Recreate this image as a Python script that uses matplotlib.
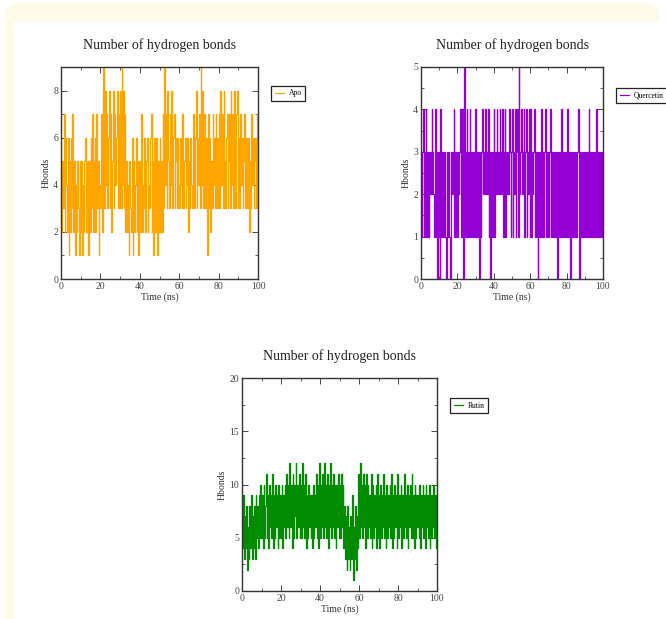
import numpy as np
import matplotlib
matplotlib.use("Agg")
import matplotlib.pyplot as plt
from matplotlib.patches import FancyBboxPatch, Rectangle
from matplotlib.ticker import MultipleLocator

plt.rcParams["font.family"] = ["Liberation Serif", "DejaVu Serif"]

# ── data: hydrogen bond counts (about 2.5 frames per ns) ──
apo_hbonds = [
    6, 2, 5, 3, 7, 2, 6, 4, 2, 6, 1, 5, 2, 6, 3, 7, 2, 5, 1, 4, 2, 5, 3, 1, 5,
    2, 5, 1, 4, 2, 5, 6, 2, 5, 3, 1, 5, 2, 6, 3, 7, 2, 5, 6, 2, 7, 3, 5, 1, 4,
    3, 7, 2, 6, 9, 3, 8, 4, 7, 3, 6, 8, 3, 7, 2, 5, 8, 3, 7, 4, 6, 8, 3, 7, 3,
    8, 3, 9, 4, 8, 3, 7, 2, 5, 2, 4, 1, 5, 3, 2, 6, 1, 5, 2, 4, 6, 2, 5, 1, 5,
    2, 5, 7, 2, 4, 3, 6, 2, 5, 6, 2, 4, 3, 6, 7, 2, 5, 1, 6, 2, 4, 6, 1, 5, 2,
    6, 2, 5, 2, 7, 3, 9, 4, 7, 3, 8, 5, 3, 7, 4, 8, 3, 6, 7, 3, 5, 6, 3, 6, 4,
    3, 6, 4, 3, 7, 3, 5, 6, 3, 4, 6, 2, 5, 3, 6, 4, 3, 7, 5, 3, 6, 8, 3, 6, 4,
    7, 3, 9, 4, 8, 3, 7, 5, 3, 6, 1, 7, 3, 6, 2, 5, 3, 7, 4, 6, 3, 7, 3, 6, 3,
    7, 3, 8, 4, 7, 3, 8, 5, 3, 6, 7, 3, 5, 7, 3, 8, 4, 7, 3, 8, 6, 3, 7, 8, 3,
    6, 3, 7, 4, 6, 3, 5, 7, 3, 6, 4, 3, 6, 2, 5, 3, 7, 4, 6, 3, 5, 6, 3, 7, 4,
]

quercetin_hbonds = [
    3, 1, 3, 4, 1, 3, 1, 4, 3, 1, 3, 1, 2, 3, 2, 4, 3, 2, 1, 3, 4, 1, 3, 0, 3,
    1, 0, 4, 1, 3, 1, 3, 1, 3, 1, 0, 3, 1, 3, 1, 0, 3, 2, 3, 2, 4, 1, 3, 1, 3,
    1, 3, 2, 3, 4, 1, 3, 4, 0, 3, 5, 1, 3, 4, 1, 3, 1, 4, 3, 1, 3, 1, 3, 1, 3,
    4, 1, 3, 1, 3, 0, 3, 1, 3, 4, 2, 3, 2, 4, 2, 3, 2, 4, 1, 3, 0, 3, 1, 3, 1,
    4, 1, 3, 2, 4, 2, 3, 2, 4, 2, 3, 2, 4, 1, 3, 4, 1, 3, 2, 3, 2, 4, 3, 1, 3,
    4, 1, 3, 2, 4, 1, 3, 4, 1, 5, 2, 3, 4, 2, 3, 2, 4, 1, 3, 4, 1, 3, 2, 4, 1,
    4, 1, 3, 2, 3, 4, 1, 3, 1, 3, 0, 3, 1, 3, 1, 4, 1, 3, 1, 3, 4, 1, 3, 1, 3,
    1, 3, 4, 1, 3, 1, 3, 1, 3, 1, 3, 1, 0, 3, 1, 3, 1, 4, 1, 3, 1, 3, 1, 3, 1,
    4, 1, 3, 1, 3, 0, 3, 1, 3, 1, 3, 1, 3, 1, 3, 4, 1, 0, 3, 1, 3, 1, 3, 1, 3,
    1, 3, 1, 3, 1, 4, 1, 3, 1, 3, 1, 3, 1, 3, 1, 4, 1, 3, 1, 3, 1, 3, 1, 3, 1,
]

rutin_hbonds = [
    8, 4, 9, 3, 7, 4, 8, 2, 6, 3, 8, 4, 9, 3, 7, 4, 8, 3, 9, 5, 8, 4, 9, 5, 10,
    5, 9, 4, 10, 5, 8, 11, 5, 9, 4, 10, 6, 9, 5, 11, 4, 9, 5, 10, 6, 9, 4, 10, 5, 9,
    5, 10, 4, 9, 6, 10, 5, 11, 6, 10, 5, 12, 6, 10, 4, 11, 5, 10, 7, 12, 5, 10, 6, 11, 5,
    10, 5, 12, 6, 10, 5, 11, 4, 9, 5, 10, 6, 9, 5, 9, 4, 10, 5, 9, 6, 11, 5, 10, 4, 12,
    5, 10, 6, 11, 5, 12, 6, 10, 5, 11, 4, 10, 6, 12, 5, 10, 6, 11, 5, 10, 4, 10, 6, 11, 5,
    10, 5, 11, 6, 10, 4, 8, 3, 7, 2, 8, 3, 6, 2, 7, 3, 9, 1, 6, 3, 8, 2, 7, 4, 11,
    5, 12, 6, 10, 5, 11, 6, 10, 4, 11, 5, 10, 6, 9, 5, 11, 4, 10, 5, 9, 6, 10, 4, 11, 5,
    9, 4, 10, 5, 9, 6, 11, 5, 9, 4, 10, 5, 9, 6, 10, 5, 11, 4, 9, 5, 10, 6, 9, 4, 11,
    5, 9, 6, 10, 4, 9, 5, 11, 6, 9, 5, 10, 4, 9, 6, 10, 5, 11, 5, 9, 4, 10, 5, 9, 6,
    9, 5, 10, 4, 9, 6, 10, 5, 9, 4, 10, 6, 9, 5, 10, 4, 9, 5, 9, 6, 10, 5, 9, 4, 12,
]

labels = ["Apo", "Quercetin", "Rutin"]
sim_length_ns = 100

# ── figure ───────────────────────────────────────────────────────────────────
W, H = 666, 619
fig = plt.figure(figsize=(W / 100, H / 100), dpi=100)

# cream card behind the plots
bg = fig.add_axes([0, 0, 1, 1], zorder=-5)
bg.set_xlim(0, W)
bg.set_ylim(H, 0)
bg.axis("off")
bg.add_patch(FancyBboxPatch((4, 3), 656, 660, boxstyle="round,pad=0,rounding_size=16",
                            facecolor="#fffbe9", edgecolor="none"))
bg.add_patch(Rectangle((13, 22), W - 13, H - 22, facecolor="white", edgecolor="none"))


def px_axes(left, top, right, bottom):
    return fig.add_axes([left / W, 1 - bottom / H, (right - left) / W, (bottom - top) / H])


panels = [
    (px_axes(61, 67, 258, 279), apo_hbonds, "#ffa500", 9, 2, 1, (1.046, 0.93)),
    (px_axes(421, 67, 603, 279), quercetin_hbonds, "#9400d3", 5, 1, 0.5, (1.05, 0.92)),
    (px_axes(242, 378, 437, 591), rutin_hbonds, "#008b00", 20, 5, 2.5, (1.046, 0.925)),
]

for (ax, values, color, ymax, ymaj, ymin, leg_pos), name in zip(panels, labels):
    time_ns = np.linspace(0, sim_length_ns, len(values))
    # steps give the vertical-stroke look of a densely sampled trajectory
    ax.plot(time_ns, values, color=color, linewidth=0.9, drawstyle="steps-mid", label=name)
    ax.set_xlim(0, 100)
    ax.set_ylim(0, ymax)
    ax.xaxis.set_major_locator(MultipleLocator(20))
    ax.xaxis.set_minor_locator(MultipleLocator(10))
    ax.yaxis.set_major_locator(MultipleLocator(ymaj))
    ax.yaxis.set_minor_locator(MultipleLocator(ymin))
    ax.tick_params(which="both", direction="in", top=True, right=True,
                   labelsize=7, colors="#444444", pad=2)
    ax.tick_params(which="major", length=4, width=0.7)
    ax.tick_params(which="minor", length=2, width=0.6)
    for sp in ax.spines.values():
        sp.set_color("#333333")
        sp.set_linewidth(1.0)
    ax.set_title("Number of hydrogen bonds", fontsize=10, color="#222222", pad=13)
    ax.set_xlabel("Time (ns)", fontsize=7, color="#333333", labelpad=1)
    ax.set_ylabel("Hbonds", fontsize=7, color="#333333", labelpad=2)
    leg = ax.legend(loc="upper left", bbox_to_anchor=leg_pos, fontsize=5.5,
                    handlelength=1.2, handletextpad=0.6, borderpad=0.5,
                    fancybox=False, framealpha=1, edgecolor="#222222")
    leg.get_frame().set_linewidth(0.9)

fig.savefig("out.png", dpi=100)
